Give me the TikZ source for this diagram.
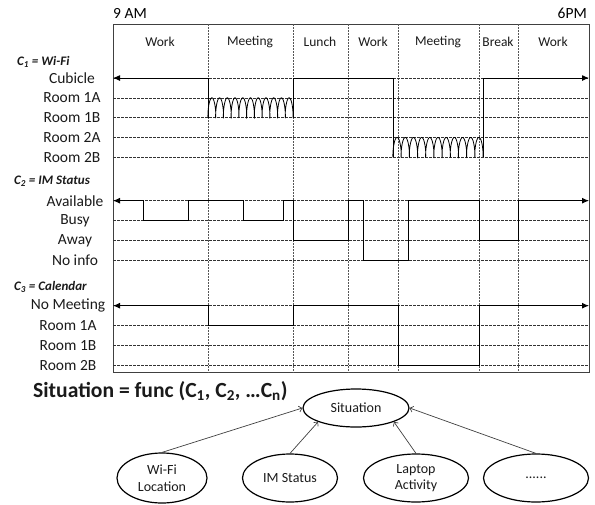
\documentclass[tikz,border=0pt]{standalone}
\usepackage{fontspec}
\setmainfont{Carlito}
\usepackage{xcolor}
\usepackage{tikz}
\usetikzlibrary{arrows.meta, positioning, shapes.geometric}
\definecolor{tlInk}{HTML}{1A1A1A}
\definecolor{tlGrid}{HTML}{333333}
\definecolor{tlDiv}{HTML}{555555}
\definecolor{tlFrame}{HTML}{404040}
\definecolor{tlArrow}{HTML}{404040}

\begin{document}
\begin{tikzpicture}[
  x=1pt, y=-1pt,
  boxframe/.style={draw=tlFrame, line width=0.9pt},
  divider/.style={draw=tlDiv, line width=0.7pt, dash pattern=on 1.5pt off 1.5pt},
  gridline/.style={draw=tlGrid, line width=0.6pt, dash pattern=on 2.5pt off 1.5pt},
  wire/.style={draw=black, line width=1pt},
  sigtip/.tip={Latex[length=7pt,width=6pt]},
  roomcoil/.style={draw=black, line width=0.8pt, smooth, samples=360, variable=\t},
  rowlab/.style={font=\fontsize{15.5}{18}\selectfont, text=tlInk, inner sep=0pt},
  grouplab/.style={font=\fontsize{13}{15}\selectfont\bfseries\itshape, text=tlInk, anchor=west, inner sep=0pt},
  phase/.style={font=\fontsize{13.5}{16}\selectfont, text=tlInk, inner sep=0pt},
  cause/.style={ellipse, draw=black, line width=1.2pt, minimum height=48pt,
    align=center, inner sep=0pt, font=\fontsize{14}{16.5}\selectfont, text=tlInk},
  feed/.style={-{Straight Barb[length=3pt,width=6pt]}, draw=tlArrow, line width=0.7pt}
]
\useasboundingbox (0,0) rectangle (595,504);

% time axis
\node[anchor=west, inner sep=0pt, font=\fontsize{15.5}{18}\selectfont] (start) at (113,13) {9 AM};
\node[anchor=east, inner sep=0pt, font=\fontsize{15.5}{18}\selectfont] (stop) at (587,13) {6PM};
\draw[boxframe] (113,24) rectangle (589,372.5);
\foreach \x in {208,293,348,398,479,518}
  \draw[divider] (\x,24) -- (\x,372.5);

\node[phase] (p1) at (160,42) {Work};
\node[phase] (p2) at (250,42) {Meeting};
\node[phase] (p3) at (320,42) {Lunch};
\node[phase] (p4) at (373,42) {Work};
\node[phase] (p5) at (438,42) {Meeting};
\node[phase] (p6) at (498,42) {Break};
\node[phase] (p7) at (553,42) {Work};

\foreach \y in {78,97.8,117.6,137.4,157.2,200.7,220.5,240.3,260.1,305.7,325.5,345.3,365.1}
  \draw[gridline] (113,\y) -- (589,\y);

% C1
\node[grouplab] (c1) at (17,62) {C\textsubscript{1} = Wi-Fi};
\node[rowlab] (cubicle) at (72,78) {Cubicle};
\node[rowlab] (room1a) at (72,97.8) {Room 1A};
\node[rowlab] (room1b) at (72,117.6) {Room 1B};
\node[rowlab] (room2a) at (72,137.4) {Room 2A};
\node[rowlab] (room2b) at (72,157.2) {Room 2B};

\draw[wire, sigtip-] (113,78) -- (208,78) -- (208,117.6);
\draw[roomcoil] plot[domain=0:3960] ({208 + \t/360*7.727 - 1.5*sin(\t)}, {107.7 + 9.9*cos(\t)});
\draw[wire] (293,117.6) -- (293,78) -- (393,78) -- (393,157.2);
\draw[roomcoil] plot[domain=0:3960] ({393 + \t/360*8.182 - 1.6*sin(\t)}, {147.3 + 9.9*cos(\t)});
\draw[wire, -sigtip] (483,157.2) -- (483,78) -- (589,78);

% C2
\node[grouplab] (c2) at (14,181) {C\textsubscript{2} = IM Status};
\node[rowlab] (avail) at (75,200.7) {Available};
\node[rowlab] (busy) at (75,220.5) {Busy};
\node[rowlab] (away) at (75,240.3) {Away};
\node[rowlab] (noinfo) at (75,260.1) {No info};

\draw[wire, sigtip-sigtip] (113,200.7) -| (143,220.5) -| (188,200.7) -| (243,220.5) -| (283,200.7)
  -| (293,240.3) -| (348,200.7) -| (363,260.1) -| (408,200.7) -| (479,240.3) -| (518,200.7) -- (589,200.7);

% C3
\node[grouplab] (c3) at (14,287) {C\textsubscript{3} = Calendar};
\node[rowlab] (nomeet) at (68,305.7) {No Meeting};
\node[rowlab] (cal1a) at (68,325.5) {Room 1A};
\node[rowlab] (cal1b) at (68,345.3) {Room 1B};
\node[rowlab] (cal2b) at (68,365.1) {Room 2B};

\draw[wire, sigtip-sigtip] (113,305.7) -| (208,325.5) -| (293,305.7) -| (398,365.1) -| (479,305.7) -- (589,305.7);

% situation model
\node[anchor=west, inner sep=0pt, font=\fontsize{21.6}{24}\selectfont\bfseries, text=tlInk] (formula) at (33,391)
  {Situation = func (C\textsubscript{1}, C\textsubscript{2}, \ldots C\textsubscript{n})};
\node[cause, minimum width=106pt, minimum height=38pt] (sit) at (356,408) {Situation};
\node[cause, minimum width=90pt, minimum height=50pt] (wifi) at (162,478) {Wi-Fi\\Location};
\node[cause, minimum width=95pt] (im) at (290,478) {IM Status};
\node[cause, minimum width=105pt] (laptop) at (416,478) {Laptop\\Activity};
\node[cause, minimum width=105pt] (more) at (536,478) {......};

\draw[feed] (wifi.north) -- (sit.west);
\draw[feed] (im.north) -- (sit.south west);
\draw[feed] (laptop.north) -- (sit.south east);
\draw[feed] (more.north) -- (sit.east);
\end{tikzpicture}
\end{document}
